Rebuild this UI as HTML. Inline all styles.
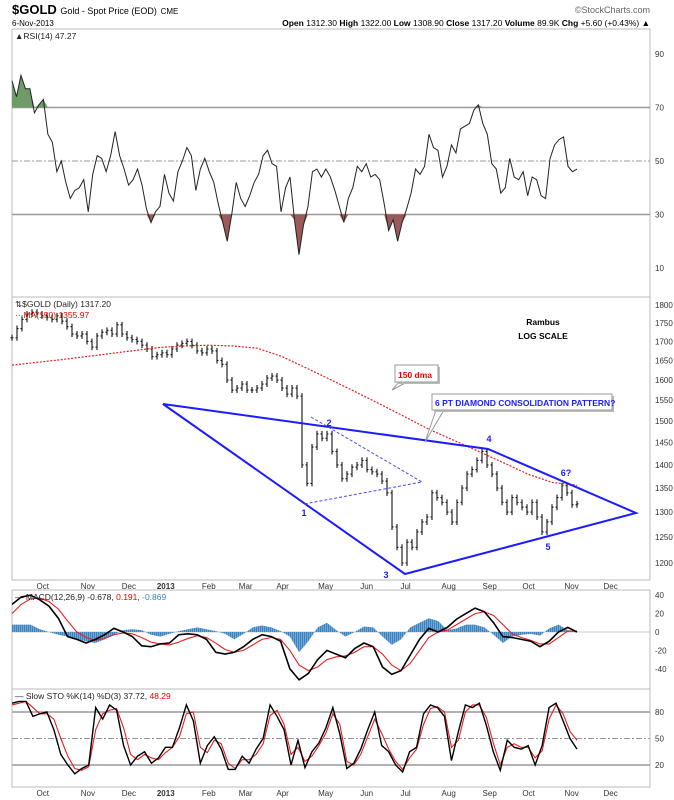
<!DOCTYPE html>
<html><head><meta charset="utf-8"><style>
html,body{margin:0;padding:0;background:#fff;}
svg{display:block;font-family:"Liberation Sans",sans-serif;}
</style></head><body>
<svg id="c" width="674" height="800" viewBox="0 0 674 800">
<text x="12" y="14" font-size="13" font-weight="bold">$GOLD <tspan font-size="9" font-weight="normal">Gold - Spot Price (EOD)</tspan> <tspan font-size="8" font-weight="normal">CME</tspan></text>
<text x="12" y="26" font-size="8">6-Nov-2013</text>
<text x="650" y="13" font-size="9" fill="#666" text-anchor="end">©StockCharts.com</text>
<text x="650" y="26" font-size="8.5" text-anchor="end"><tspan font-weight="bold">Open</tspan> 1312.30 <tspan font-weight="bold">High</tspan> 1322.00 <tspan font-weight="bold">Low</tspan> 1308.90 <tspan font-weight="bold">Close</tspan> 1317.20 <tspan font-weight="bold">Volume</tspan> 89.9K <tspan font-weight="bold">Chg</tspan> +5.60 (+0.43%) ▲</text>
<g id="g"></g>
</svg>
<script>
const priceClose=[1710,1735,1760,1775,1780,1775,1770,1765,1760,1770,1755,1740,1720,1715,1720,1700,1685,1715,1725,1730,1720,1745,1720,1710,1705,1700,1690,1680,1660,1665,1670,1665,1680,1690,1695,1700,1690,1675,1670,1680,1675,1650,1640,1600,1575,1580,1590,1575,1575,1580,1590,1605,1610,1600,1580,1565,1580,1560,1400,1360,1440,1470,1460,1470,1430,1400,1370,1380,1395,1400,1410,1390,1385,1380,1365,1340,1270,1230,1200,1240,1230,1260,1280,1290,1340,1330,1320,1300,1280,1320,1350,1380,1390,1410,1430,1400,1380,1350,1320,1300,1330,1320,1310,1300,1320,1290,1260,1280,1310,1330,1355,1340,1315,1317];
const ma150=[1638,1645,1652,1660,1668,1676,1684,1688,1690,1688,1682,1660,1630,1600,1570,1540,1510,1480,1455,1430,1405,1380,1362,1356];
const rsiVals=[80,74,82,77,77,68,71,73,60,57,46,50,42,36,39,40,43,31,45,52,51,46,52,61,52,47,41,43,47,41,32,27,31,33,45,38,35,46,50,55,52,39,47,51,46,42,34,27,20,30,42,36,33,37,42,45,52,54,49,48,31,40,44,28,15,26,33,46,47,44,47,44,39,33,27,36,40,48,46,49,44,45,43,34,24,28,20,27,32,38,47,45,48,60,55,54,44,48,56,53,62,63,64,69,71,64,60,49,47,38,40,51,44,43,46,37,44,43,37,36,51,56,58,59,48,46,47];
const macdVals=[30,38,40,35,28,15,-5,-8,-12,-8,-3,4,0,-5,-15,-16,-13,-12,-3,-2,-3,-8,-22,-24,-22,-16,-8,-3,-5,-10,-40,-52,-45,-30,-20,-24,-28,-18,-12,-16,-38,-46,-42,-25,-8,4,0,5,14,20,26,22,10,-5,-6,-8,-10,-16,-10,0,5,0];
const signalVals=[20,30,36,37,33,25,12,0,-6,-9,-7,-3,-1,-2,-6,-11,-13,-14,-11,-7,-4,-6,-12,-19,-22,-20,-14,-8,-6,-8,-20,-36,-42,-38,-30,-27,-26,-22,-16,-16,-24,-36,-42,-34,-20,-6,0,2,8,14,20,22,18,8,-2,-6,-9,-13,-13,-6,1,1];
const histVals=[8,8,8,3,0,-3,-5,-8,-10,-12,-8,-3,2,3,2,-3,-5,-2,1,3,5,3,1,-2,-8,-2,5,7,5,1,-5,-22,-10,5,10,2,-5,0,6,5,-5,-14,-8,5,10,15,12,2,4,8,8,5,-3,-12,-5,-3,-2,-4,4,8,2,0];
const stoK=[90,92,92,75,78,80,60,32,20,10,16,20,85,72,88,82,42,20,30,35,22,28,40,40,62,88,70,22,42,52,38,15,15,30,22,38,50,88,75,60,20,48,17,35,45,62,85,55,16,22,38,60,80,42,35,20,12,35,40,78,88,85,75,25,58,88,85,90,65,35,14,48,40,38,42,20,42,85,90,70,50,38];
const stoD=[88,90,92,85,78,78,72,50,30,16,14,18,60,78,82,84,62,32,26,32,28,26,34,40,52,78,80,40,34,48,44,22,16,26,26,32,44,76,82,66,32,40,24,30,42,56,78,66,24,20,32,52,72,56,38,24,15,28,38,66,84,86,80,40,48,80,88,88,74,45,20,40,44,40,40,28,36,72,88,78,58,48];
const rsiTicks=[90,70,50,30,10];
const priceTicks=[1800,1750,1700,1650,1600,1550,1500,1450,1400,1350,1300,1250,1200];
const macdTicks=[40,20,0,-20,-40];
const stoTicks=[80,50,20];
const monthLabels=["Oct","Nov","Dec","2013","Feb","Mar","Apr","May","Jun","Jul","Aug","Sep","Oct","Nov","Dec"];
const monthDays=[15,37,57,75,96,114,132,153,173,192,213,233,252,273,292];

const NS="http://www.w3.org/2000/svg",G=document.getElementById('g');
function mk(t,a,p){const e=document.createElementNS(NS,t);for(const k in a)e.setAttribute(k,a[k]);(p||G).appendChild(e);return e;}
const L=12,R=650,X0=12,X1=577;
const xIdx=(i,n)=>X0+i*(X1-X0)/(n-1);
const xDay=d=>X0+d*2.05;
const yRsi=v=>161-(v-50)*2.675;
const yPx=p=>563-636*Math.log(p/1200);
const yMacd=v=>632-v*0.92;
const ySto=v=>738.5-(v-50)*0.883;
[[29,297],[297,580],[590,689],[689,787]].forEach((p,i)=>{const r=mk('rect',{x:L,y:p[0],width:R-L,height:p[1]-p[0],fill:'none',stroke:'#bbb','stroke-width':1});

});
function ticks(arr,f){arr.forEach(v=>{const t=mk('text',{x:655,y:f(v)+3,'font-size':8,fill:'#333'});t.textContent=v;

});}
ticks(rsiTicks,yRsi);ticks(priceTicks,yPx);ticks(macdTicks,yMacd);ticks(stoTicks,ySto);
function months(y){monthLabels.forEach((m,i)=>{const t=mk('text',{x:xDay(monthDays[i]),y:y,'font-size':8,'text-anchor':'middle',fill:'#333','font-weight':m=='2013'?'bold':'normal'});t.textContent=m;

});}
months(589);months(796);
function hline(y,dash,col,w){const l=mk('line',{x1:L,x2:R,y1:y,y2:y,stroke:col||'#999','stroke-width':w||1.5});if(dash)l.setAttribute('stroke-dasharray',dash);

}
hline(yRsi(70));hline(yRsi(30));hline(yRsi(50),'6,2,2,2','#999',1);
hline(yMacd(0),null,'#ccc',1);
hline(ySto(80));hline(ySto(20));hline(ySto(50),'6,2,2,2','#999',1);
const rn=rsiVals.length;
function fillBand(th,above,col){let pts=[];for(let i=0;i<rn;i++){const v=rsiVals[i];const c=above?Math.max(v,th):Math.min(v,th);pts.push(xIdx(i,rn)+','+yRsi(c));}
const d='M'+xIdx(0,rn)+','+yRsi(th)+' L'+pts.join(' L')+' L'+xIdx(rn-1,rn)+','+yRsi(th)+'Z';const p=mk('path',{d:d,fill:col,stroke:'none'});

}
fillBand(70,true,'#6f9a6a');fillBand(30,false,'#9a5a5a');
function line(vals,f,col,w,name,dash){const n=vals.length;const p=mk('polyline',{points:vals.map((v,i)=>xIdx(i,n)+','+f(v)).join(' '),fill:'none',stroke:col,'stroke-width':w});if(dash)p.setAttribute('stroke-dasharray',dash);

return p;}
line(rsiVals,yRsi,'#222',1,'rsi-line');
const pn=priceClose.length;
for(let i=0;i<pn;i++){const x=xIdx(i,pn);const c=priceClose[i],o=i?priceClose[i-1]:c;
const hi=yPx(Math.max(o,c))-3,lo=yPx(Math.min(o,c))+3;
const b=mk('path',{d:`M${x},${hi}V${lo}M${x-1.5},${yPx(o)}H${x}M${x},${yPx(c)}H${x+1.5}`,stroke:'#111','stroke-width':1.1,fill:'none'});

}
line(ma150,yPx,'#e52020',1.2,'ma150-line','2,1.5');
const dia=mk('polygon',{points:'163,404 488,449 636,513 405,574',fill:'none',stroke:'#1c1cff','stroke-width':2});


const tri=mk('polyline',{points:'311,417 422,482 304,504',fill:'none',stroke:'#4a4aff','stroke-width':1,'stroke-dasharray':'3,2'});


[['1',304,516],['2',329,426],['3',386,578],['4',489,442],['5',548,550],['6?',566,476]].forEach(a=>{const t=mk('text',{x:a[1],y:a[2],'font-size':9,'font-weight':'bold',fill:'#1c1cff','text-anchor':'middle'});t.textContent=a[0];

});
function callout(x,y,w,h,txt,col,px,py,name){const g=mk('g',{});
mk('path',{d:`M${x+4},${y+h}L${px},${py}L${x+12},${y+h}`,fill:'#fff',stroke:'#999','stroke-width':1},g);
mk('rect',{x:x+2,y:y+2,width:w,height:h,fill:'#bbb'},g);
mk('rect',{x:x,y:y,width:w,height:h,fill:'#fff',stroke:'#999','stroke-width':1},g);
const t=mk('text',{x:x+3,y:y+h-4,'font-size':8.5,'font-weight':'bold',fill:col},g);t.textContent=txt;}
callout(395,365,43,17,'150 dma','#e00',392,390,'ma-callout');
callout(432,394,180,16,'6 PT DIAMOND CONSOLIDATION PATTERN?','#1c1cff',425,442,'pattern-callout');
[['Rambus',543,325],['LOG SCALE',543,339]].forEach(a=>{const t=mk('text',{x:a[1],y:a[2],'font-size':8.5,'font-weight':'bold','text-anchor':'middle'});t.textContent=a[0];

});
// MACD histogram as striped area
const hn=histVals.length;
const pat=mk('pattern',{id:'hs',width:2,height:4,patternUnits:'userSpaceOnUse'});
mk('rect',{x:0,y:0,width:1.4,height:4,fill:'#3a82c0'},pat);mk('rect',{x:1.4,y:0,width:0.6,height:4,fill:'#7fb0da'},pat);
let hd='M'+xIdx(0,hn)+','+yMacd(0);
for(let i=0;i<hn;i++)hd+=' L'+xIdx(i,hn)+','+yMacd(histVals[i]);
hd+=' L'+xIdx(hn-1,hn)+','+yMacd(0)+'Z';
const ha=mk('path',{d:hd,fill:'url(#hs)',stroke:'none'});


const cp=mk('clipPath',{id:'mc'});mk('rect',{x:L,y:590,width:R-L,height:99},cp);
line(signalVals,yMacd,'#e52020',1.1,'macd-signal-line').setAttribute('clip-path','url(#mc)');
line(macdVals,yMacd,'#000',1.6,'macd-line').setAttribute('clip-path','url(#mc)');
line(stoD,ySto,'#e52020',1.1,'sto-d-line');
line(stoK,ySto,'#000',1.4,'sto-k-line');
function leg(y,parts,name){const t=mk('text',{x:15,y:y,'font-size':8.5,fill:'#222'});
parts.forEach(p=>{const s=mk('tspan',{fill:p[1]||'#222'},t);s.textContent=p[0];});}
leg(39,[['▲RSI(14) 47.27']],'rsi-legend');
leg(307,[['⇅$GOLD (Daily) 1317.20']],'price-legend');
leg(318,[['···MA(150) 1355.97','#e00']],'ma-legend');
leg(600,[['— MACD(12,26,9) -0.678, '],['0.191','#e00'],[', '],['-0.869','#3a82c0']],'macd-legend');
leg(699,[['— Slow STO %K(14) %D(3) 37.72, '],['48.29','#e00']],'sto-legend');
</script>
</body></html>
